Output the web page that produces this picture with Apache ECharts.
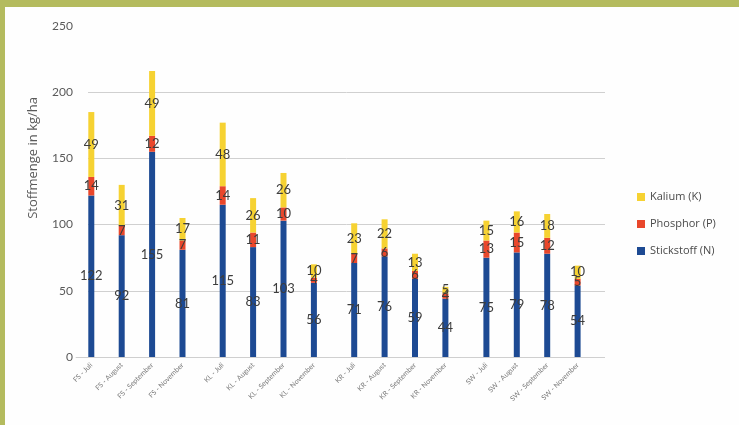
<!DOCTYPE html>
<html>
<head>
<meta charset="utf-8">
<script src="https://cdn.jsdelivr.net/npm/echarts@6/dist/echarts.min.js"></script>
<style>
  html, body { margin: 0; padding: 0; background: #b4bb5e; width: 739px; height: 425px; overflow: hidden; }
  #chart { position: absolute; left: 5px; top: 7px; width: 734px; height: 418px; background: #fefefe; }
</style>
</head>
<body>
<div id="chart"></div>
<script>
// Sampling sites and months
const sites = ['FS', 'KL', 'KR', 'SW'];
const months = ['Juli', 'August', 'September', 'November'];

// Nutrient amounts in kg/ha, one entry per site/month (site-major order)
const stickstoff = [122, 92, 155, 81, 115, 83, 103, 56, 71, 76, 59, 44, 75, 79, 78, 54];
const phosphor   = [14, 7, 12, 7, 14, 11, 10, 4, 7, 6, 6, 4, 13, 15, 12, 5];
const kalium     = [49, 31, 49, 17, 48, 26, 26, 10, 23, 22, 13, 5, 15, 16, 18, 10];

// Value axis ticks
const yTicks = [0, 50, 100, 150, 200, 250];

const nutrients = [
  { name: 'Stickstoff (N)', values: stickstoff, color: '#1d4a93' },
  { name: 'Phosphor (P)',   values: phosphor,   color: '#e9472b' },
  { name: 'Kalium (K)',     values: kalium,     color: '#f6d232' }
];

const chart = echarts.init(document.getElementById('chart'));

const plotTop = 19, plotBottom = 68;
const bandW = 30.4;
const groupLeft = [71.1, 202.5, 334.0, 466.2];

// Full-width grid carrying the value axis and horizontal gridlines
const grids = [{ left: 83, right: 134, top: plotTop, bottom: plotBottom }];
const xAxes = [{ gridIndex: 0, type: 'value', min: 0, max: 1, show: false }];
const yAxes = [{
  gridIndex: 0, type: 'value', min: yTicks[0], max: yTicks[yTicks.length - 1],
  interval: yTicks[1] - yTicks[0],
  axisLine: { show: false }, axisTick: { show: false },
  axisLabel: { color: '#5a5a5a', fontSize: 12, fontFamily: 'Lato', margin: 15 },
  splitLine: { show: true, showMaxLine: false, lineStyle: { color: '#d0d0d0', width: 1 } }
}];
const series = [];

// One grid per site so the site groups sit slightly apart
sites.forEach((site, g) => {
  const gi = g + 1;
  grids.push({ left: groupLeft[g], width: bandW * months.length, top: plotTop, bottom: plotBottom });
  xAxes.push({
    gridIndex: gi, type: 'category',
    data: months.map(m => site + ' - ' + m),
    axisLine: { show: true, lineStyle: { color: '#cfcfcf' } },
    axisTick: { show: false },
    axisLabel: { rotate: 45, fontSize: 7, color: '#7a7a7a', fontFamily: 'Lato', margin: 7, interval: 0 }
  });
  yAxes.push({
    gridIndex: gi, type: 'value', min: yTicks[0], max: yTicks[yTicks.length - 1], show: false,
    splitLine: { show: false }
  });
  nutrients.forEach(n => {
    series.push({
      name: n.name, type: 'bar', stack: 'g' + g,
      xAxisIndex: gi, yAxisIndex: gi,
      barWidth: 6,
      itemStyle: { color: n.color },
      data: n.values.slice(g * months.length, (g + 1) * months.length),
      label: {
        show: true, position: 'inside', color: '#3d3d3d',
        fontSize: 13, fontFamily: 'Lato'
      },
      z: 3
    });
  });
});

chart.setOption({
  animation: false,
  backgroundColor: '#fefefe',
  grid: grids,
  xAxis: xAxes,
  yAxis: yAxes,
  series: series,
  legend: {
    orient: 'vertical', left: 627, top: 178,
    data: ['Kalium (K)', 'Phosphor (P)', 'Stickstoff (N)'],
    itemWidth: 8, itemHeight: 8, itemGap: 13, icon: 'rect',
    textStyle: { fontSize: 11, color: '#4a4a4a', fontFamily: 'Open Sans', lineHeight: 14 }
  },
  graphic: [{
    type: 'text', left: 22, top: 90, rotation: Math.PI / 2,
    style: { text: 'Stoffmenge in kg/ha', fontSize: 13, fill: '#5a5a5a', fontFamily: 'Open Sans' }
  }]
});
</script>
</body>
</html>
